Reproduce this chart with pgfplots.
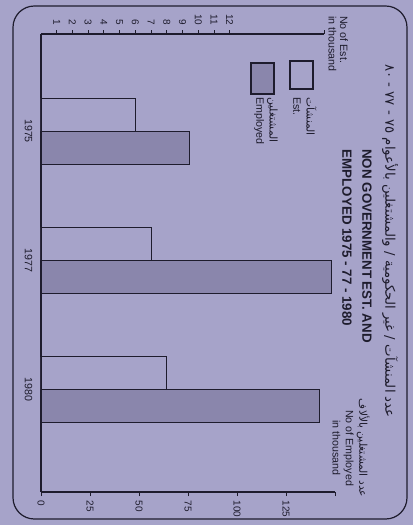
\documentclass[border=0pt]{standalone}
\usepackage{pgfplots}
\pgfplotsset{compat=1.18}
\usepackage{fontspec}
\setmainfont{Liberation Sans}
\newfontfamily\arabicfont[Script=Arabic]{DejaVu Sans}
\TeXXeTstate=1
\definecolor{paper}{RGB}{166,163,201}
\definecolor{barfill}{RGB}{138,134,172}
\definecolor{ink}{RGB}{30,28,45}

\pgfplotsset{
  card/.style={
    scale only axis, height=343.5pt,
    at={(41*0.75pt,-34*0.75pt)}, anchor=north west,
    y dir=reverse, ymin=-0.75, ymax=2.79, xmin=0,
    xbar, bar width=24.75pt,
    tick align=outside, major tick length=3pt,
    tick style={ink, line width=0.6pt},
    axis line style={ink, line width=0.9pt},
    ticklabel style={font=\fontsize{7.5}{9}\selectfont, text=ink},
    /pgf/number format/assume math mode=true,
    ytick style={draw=none},
  },
}

\begin{document}
\begin{tikzpicture}
\fill[paper] (0,0) rectangle (413*0.75pt,-525*0.75pt);
\draw[ink, line width=0.9pt, rounded corners=16pt] (13*0.75pt,-6*0.75pt) rectangle (407*0.75pt,-519*0.75pt);

% establishments, scale on the top edge
\begin{axis}[card, width=283*0.75pt, xmax=18,
  axis x line*=top, axis y line*=left,
  xtick={1,2,...,12}, extra x ticks={18}, extra x tick labels={},
  xticklabel style={rotate=-90, anchor=east},
  ytick={0,1,2}, yticklabels={1975,1977,1980},
  yticklabel style={rotate=-90, anchor=north, font=\fontsize{8}{9}\selectfont},
]
\addplot[draw=ink, line width=0.8pt, fill=paper, bar shift=12.375pt]
  coordinates {(6,0) (7,1) (8,2)};
\end{axis}

% employed, scale on the bottom edge
\begin{axis}[card, width=294*0.75pt, xmax=150,
  axis x line*=bottom, axis y line=none,
  xtick={0,25,...,125}, extra x ticks={150}, extra x tick labels={},
  xticklabel style={rotate=-90, anchor=west},
]
\addplot[draw=ink, line width=0.8pt, fill=barfill, bar shift=-12.375pt]
  coordinates {(76,0) (148,1) (142,2)};
\end{axis}

% legend
\draw[ink, line width=0.8pt, fill=paper] (290*0.75pt,-61*0.75pt) rectangle (313*0.75pt,-89*0.75pt);
\draw[ink, line width=0.8pt, fill=barfill] (251*0.75pt,-63*0.75pt) rectangle (274*0.75pt,-94*0.75pt);
\node[rotate=-90, anchor=north west, align=left, inner sep=0pt, text=ink,
  font=\fontsize{8}{10}\selectfont] at (317*0.75pt,-97*0.75pt)
  {{\arabicfont\beginR المنشآت\endR}\\Est.};
\node[rotate=-90, anchor=north west, align=left, inner sep=0pt, text=ink,
  font=\fontsize{8}{10}\selectfont] at (278*0.75pt,-97*0.75pt)
  {{\arabicfont\beginR المشتغلين\endR}\\Employed};

% axis titles
\node[rotate=-90, anchor=north west, align=left, inner sep=0pt, text=ink,
  font=\fontsize{8}{8.5}\selectfont] at (348*0.75pt,-16*0.75pt)
  {No of Est.\\in thousand};
\node[rotate=-90, align=center, inner sep=0pt, text=ink,
  font=\fontsize{8}{10}\selectfont] at (351*0.75pt,-448*0.75pt)
  {{\arabicfont\beginR عدد المشتغلين بالألاف\endR}\\No of Employed\\in thousand};

% title
\node[rotate=-90, inner sep=0pt, text=ink, font=\fontsize{10}{12}\selectfont]
  at (390*0.75pt,-241*0.75pt)
  {\arabicfont\beginR عدد المنشآت / غير الحكومية / والمشتغلين بالأعوام ٧٥ - ٧٧ - ٨٠\endR};
\node[rotate=-90, inner sep=0pt, text=ink, font=\fontsize{10}{12}\selectfont\bfseries]
  at (367*0.75pt,-246*0.75pt) {NON GOVERNMENT EST. AND};
\node[rotate=-90, inner sep=0pt, text=ink, font=\fontsize{10}{12}\selectfont\bfseries]
  at (347*0.75pt,-238*0.75pt) {EMPLOYED 1975 - 77 - 1980};
\end{tikzpicture}
\end{document}
